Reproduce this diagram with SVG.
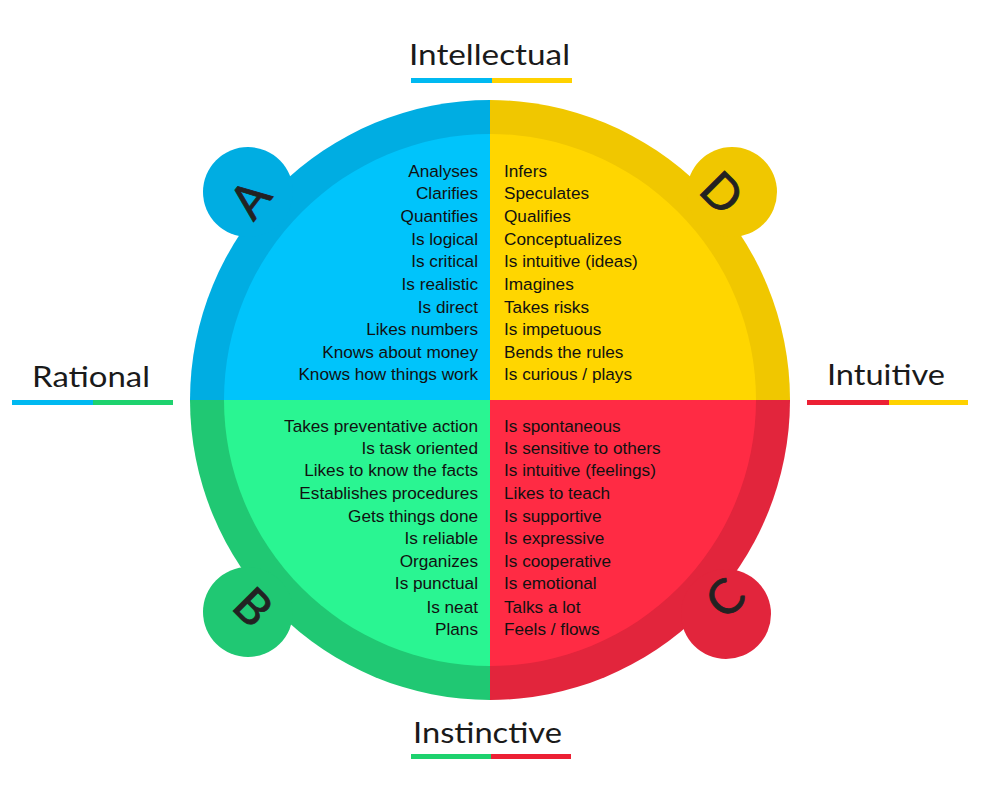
<svg xmlns="http://www.w3.org/2000/svg" width="1008" height="810" viewBox="0 0 1008 810">
<style>
.item{font-family:"Liberation Sans",Arial,sans-serif;font-size:17.2px;fill:#111;}
.r{text-anchor:end;}
.head{font-family:Lato,"Liberation Sans",sans-serif;font-size:28px;fill:#1a1a1a;}
.letter{font-family:Lato,"Liberation Sans",sans-serif;font-size:48px;font-weight:normal;fill:#222;text-anchor:middle;stroke:#222;stroke-width:0.8px;}
</style>
<defs>
<clipPath id="qA"><rect x="0" y="0" width="490" height="400"/></clipPath>
<clipPath id="qD"><rect x="490" y="0" width="518" height="400"/></clipPath>
<clipPath id="qB"><rect x="0" y="400" width="490" height="410"/></clipPath>
<clipPath id="qC"><rect x="490" y="400" width="518" height="410"/></clipPath>
</defs>
<rect width="1008" height="810" fill="#fff"/>

<g id="quadrant-A">
<g clip-path="url(#qA)">
<circle cx="490" cy="400" r="300" fill="#00ADE2"/>
<circle cx="248" cy="192" r="45" fill="#00ADE2"/>
<circle cx="490" cy="400" r="266" fill="#00C4FB"/>
</g>
<text class="letter" transform="translate(250,199) rotate(-52)" y="17">A</text>
<g class="item r">
<text x="478" y="177">Analyses</text>
<text x="478" y="199">Clarifies</text>
<text x="478" y="222">Quantifies</text>
<text x="478" y="245">Is logical</text>
<text x="478" y="267">Is critical</text>
<text x="478" y="290">Is realistic</text>
<text x="478" y="313">Is direct</text>
<text x="478" y="335">Likes numbers</text>
<text x="478" y="358">Knows about money</text>
<text x="478" y="380">Knows how things work</text>
</g>
</g>

<g id="quadrant-D">
<g clip-path="url(#qD)">
<circle cx="490" cy="400" r="300" fill="#F0C700"/>
<circle cx="732" cy="192" r="45" fill="#F0C700"/>
<circle cx="490" cy="400" r="266" fill="#FFD600"/>
</g>
<text class="letter" transform="translate(722,193) rotate(45)" y="17">D</text>
<g class="item">
<text x="504" y="177">Infers</text>
<text x="504" y="199">Speculates</text>
<text x="504" y="222">Qualifies</text>
<text x="504" y="245">Conceptualizes</text>
<text x="504" y="267">Is intuitive (ideas)</text>
<text x="504" y="290">Imagines</text>
<text x="504" y="313">Takes risks</text>
<text x="504" y="335">Is impetuous</text>
<text x="504" y="358">Bends the rules</text>
<text x="504" y="380">Is curious / plays</text>
</g>
</g>

<g id="quadrant-B">
<g clip-path="url(#qB)">
<circle cx="490" cy="400" r="300" fill="#20C873"/>
<circle cx="248" cy="612" r="45" fill="#20C873"/>
<circle cx="490" cy="400" r="266" fill="#2AF592"/>
</g>
<text class="letter" transform="translate(253,607) rotate(45)" y="17">B</text>
<g class="item r">
<text x="478" y="432">Takes preventative action</text>
<text x="478" y="454">Is task oriented</text>
<text x="478" y="476">Likes to know the facts</text>
<text x="478" y="499">Establishes procedures</text>
<text x="478" y="522">Gets things done</text>
<text x="478" y="544">Is reliable</text>
<text x="478" y="567">Organizes</text>
<text x="478" y="589">Is punctual</text>
<text x="478" y="613">Is neat</text>
<text x="478" y="635">Plans</text>
</g>
</g>

<g id="quadrant-C">
<g clip-path="url(#qC)">
<circle cx="490" cy="400" r="300" fill="#E2253C"/>
<circle cx="726" cy="614" r="45" fill="#E2253C"/>
<circle cx="490" cy="400" r="266" fill="#FF2B44"/>
</g>
<text class="letter" transform="translate(725,598) rotate(-45)" y="17">C</text>
<g class="item">
<text x="504" y="432">Is spontaneous</text>
<text x="504" y="454">Is sensitive to others</text>
<text x="504" y="476">Is intuitive (feelings)</text>
<text x="504" y="499">Likes to teach</text>
<text x="504" y="522">Is supportive</text>
<text x="504" y="544">Is expressive</text>
<text x="504" y="567">Is cooperative</text>
<text x="504" y="589">Is emotional</text>
<text x="504" y="613">Talks a lot</text>
<text x="504" y="635">Feels / flows</text>
</g>
</g>

<g id="label-intellectual">
<text class="head" x="409" y="65" textLength="161" lengthAdjust="spacingAndGlyphs">Intellectual</text>
<rect x="411" y="78" width="81" height="5" fill="#00B9F1"/>
<rect x="492" y="78" width="80" height="5" fill="#FFD200"/>
</g>
<g id="label-rational">
<text class="head" x="32" y="387" textLength="118" lengthAdjust="spacingAndGlyphs">Rational</text>
<rect x="12" y="400" width="81" height="5" fill="#00B9F1"/>
<rect x="93" y="400" width="80" height="5" fill="#1ED26E"/>
</g>
<g id="label-intuitive">
<text class="head" x="827" y="385" textLength="118" lengthAdjust="spacingAndGlyphs">Intuitive</text>
<rect x="807" y="400" width="82" height="5" fill="#EC2034"/>
<rect x="889" y="400" width="79" height="5" fill="#FFD200"/>
</g>
<g id="label-instinctive">
<text class="head" x="413" y="743" textLength="149" lengthAdjust="spacingAndGlyphs">Instinctive</text>
<rect x="411" y="754" width="80" height="5" fill="#1ED26E"/>
<rect x="491" y="754" width="80" height="5" fill="#EC2034"/>
</g>
</svg>
